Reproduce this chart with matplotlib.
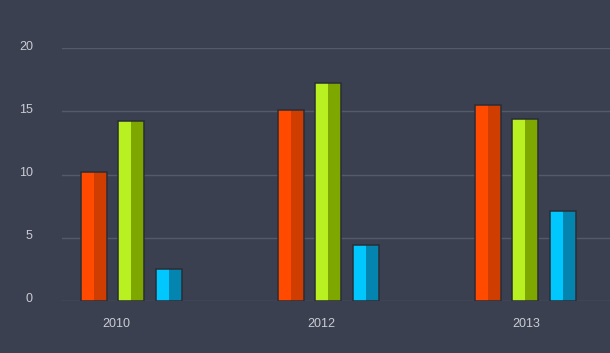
import numpy as np
import matplotlib
matplotlib.use("Agg")
import matplotlib.pyplot as plt
import matplotlib.transforms as mtransforms

## DATA
years = ["2010", "2012", "2013"]
series_a = [10.2, 15.1, 15.5]   # orange
series_b = [14.2, 17.2, 14.4]   # green
series_c = [2.5, 4.4, 7.1]      # cyan
yticks = [0, 5, 10, 15, 20]

## STYLE
bg = "#3b4050"
grid_col = "#545a6a"
text_col = "#c9ccd4"
edge_col = "#2a2d36"
light = ["#ff4a00", "#b9f022", "#00c8ff"]
dark = ["#d03d00", "#7ea700", "#0485b0"]

bar_w = 0.132
step = 0.19

plt.rcParams["font.family"] = ["Liberation Sans", "DejaVu Sans"]

fig = plt.figure(figsize=(6.1, 3.53), dpi=100, facecolor=bg)
ax = fig.add_axes([62 / 610, 52 / 353, 548 / 610, 253 / 353])
ax.set_facecolor(bg)

x = np.arange(len(years))
for k, vals in enumerate([series_a, series_b, series_c]):
    xs = x + k * step
    # left light half, right dark half, outline on top
    ax.bar(xs - bar_w / 4, vals, width=bar_w / 2, color=light[k], linewidth=0, zorder=3)
    ax.bar(xs + bar_w / 4, vals, width=bar_w / 2, color=dark[k], linewidth=0, zorder=3)
    ax.bar(xs, vals, width=bar_w, fill=False, edgecolor=edge_col, linewidth=1.1, zorder=4)

ax.set_xlim(-0.161, 2.62)
ax.set_ylim(0, 20)

ax.set_yticks(yticks)
ax.yaxis.grid(True, color=grid_col, linewidth=1)
ax.set_axisbelow(True)

# category labels drift slightly right of the bar groups in the original
ax.set_xticks(x + 0.113 + 0.04 * x)
ax.set_xticklabels(years)

for s in ax.spines.values():
    s.set_visible(False)

ax.tick_params(axis="both", length=0, colors=text_col, labelsize=9)
ax.tick_params(axis="y", pad=21)
ax.tick_params(axis="x", pad=12)

off = mtransforms.ScaledTranslation(0, 3 / 100, fig.dpi_scale_trans)
for lab in ax.get_yticklabels():
    lab.set_transform(lab.get_transform() + off)

fig.savefig("out.png", dpi=100, facecolor=bg)
